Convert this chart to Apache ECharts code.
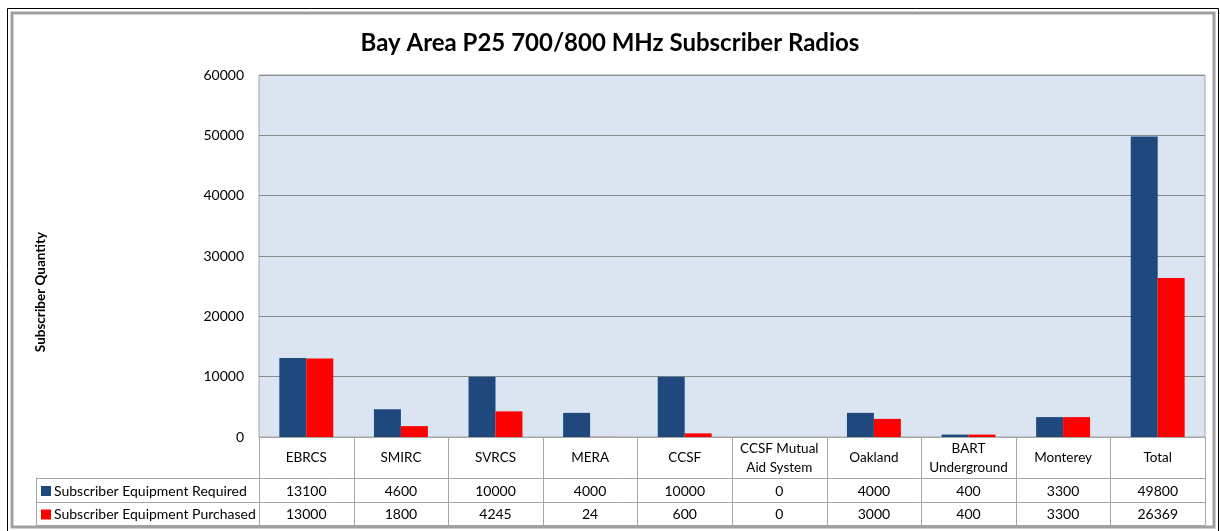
<!DOCTYPE html>
<html>
<head>
<meta charset="utf-8">
<script src="https://cdn.jsdelivr.net/npm/echarts@6/dist/echarts.min.js"></script>
<style>
html, body { margin: 0; padding: 0; background: #fff; }
#main { width: 1220px; height: 531px; }
</style>
</head>
<body>
<div id="main"></div>
<script>
var categories = ['EBRCS', 'SMIRC', 'SVRCS', 'MERA', 'CCSF', 'CCSF Mutual\nAid System', 'Oakland', 'BART\nUnderground', 'Monterey', 'Total'];
var required = [13100, 4600, 10000, 4000, 10000, 0, 4000, 400, 3300, 49800];
var purchased = [13000, 1800, 4245, 24, 600, 0, 3000, 400, 3300, 26369];
var seriesNames = ['Subscriber Equipment Required', 'Subscriber Equipment Purchased'];
var seriesColors = ['#1f497d', '#ff0000'];

var chart = echarts.init(document.getElementById('main'));
var font = 'Lato, "Open Sans", sans-serif';
var lineCol = '#a6a6a6';

// table geometry (rows under the axis)
var axisY = 437, row1 = 478, row2 = 502, rowEnd = 525, tableLeft = 36;

option = {
    animation: false,
    title: {
        text: 'Bay Area P25 700/800 MHz Subscriber Radios',
        left: 'center',
        top: 26,
        textStyle: { fontFamily: font, fontSize: 24, fontWeight: 'bold', color: '#000' }
    },
    grid: {
        left: 259, right: 15, top: 75, bottom: 94,
        show: true,
        backgroundColor: '#dbe5f1',
        borderColor: lineCol,
        borderWidth: 1
    },
    xAxis: {
        type: 'category',
        data: categories,
        axisLine: { lineStyle: { color: lineCol } },
        axisTick: { show: false },
        splitLine: { show: false },
        axisLabel: {
            interval: 0,
            margin: 21,
            verticalAlign: 'middle',
            lineHeight: 19,
            fontFamily: font,
            fontSize: 13.5,
            color: '#000'
        }
    },
    yAxis: {
        type: 'value',
        min: 0,
        max: 60000,
        interval: 10000,
        axisLine: { show: false },
        axisTick: { show: false },
        axisLabel: {
            margin: 15, fontFamily: font, fontSize: 14, color: '#000',
            formatter: function (v) { return String(v); }
        },
        splitLine: { lineStyle: { color: '#8c8c8c' } }
    },
    series: [
        {
            name: seriesNames[0], type: 'bar', data: required,
            barGap: '0%', barCategoryGap: '43%',
            itemStyle: { color: seriesColors[0] }
        },
        {
            name: seriesNames[1], type: 'bar', data: purchased,
            itemStyle: { color: seriesColors[1] }
        }
    ]
};
chart.setOption(option);

// build the data table from the axis positions
var gridLeft = chart.convertToPixel({ xAxisIndex: 0 }, 0);
var step = chart.convertToPixel({ xAxisIndex: 0 }, 1) - gridLeft;
var x0 = gridLeft - step / 2;
var x1 = x0 + step * categories.length;
var g = [];

function hline(y, xa, xb) {
    g.push({ type: 'line', shape: { x1: xa, y1: y + 0.5, x2: xb, y2: y + 0.5 }, style: { stroke: lineCol, lineWidth: 1 }, silent: true });
}
function vline(x, ya, yb) {
    g.push({ type: 'line', shape: { x1: Math.round(x) + 0.5, y1: ya, x2: Math.round(x) + 0.5, y2: yb }, style: { stroke: lineCol, lineWidth: 1 }, silent: true });
}

hline(row1, tableLeft, x1);
hline(row2, tableLeft, x1);
hline(rowEnd, tableLeft, x1);
vline(tableLeft, row1, rowEnd);
for (var i = 0; i <= categories.length; i++) {
    vline(x0 + step * i, axisY, rowEnd);
}

var rows = [required, purchased];
var rowMid = [(row1 + row2) / 2 + 1, (row2 + rowEnd) / 2 + 1];
rows.forEach(function (vals, r) {
    g.push({ type: 'rect', shape: { x: 41, y: rowMid[r] - 5, width: 10, height: 10 }, style: { fill: seriesColors[r] }, silent: true });
    g.push({ type: 'text', x: 54, y: rowMid[r], style: { text: seriesNames[r], font: '14px ' + font, fill: '#000', verticalAlign: 'middle', align: 'left' }, silent: true });
    vals.forEach(function (v, i) {
        g.push({ type: 'text', x: chart.convertToPixel({ xAxisIndex: 0 }, i), y: rowMid[r], style: { text: String(v), font: '14px ' + font, fill: '#000', align: 'center', verticalAlign: 'middle' }, silent: true });
    });
});

// y axis title
g.push({ type: 'text', x: 41, y: 292, rotation: Math.PI / 2, style: { text: 'Subscriber Quantity', font: 'bold 13.5px ' + font, fill: '#000', align: 'center', verticalAlign: 'middle' }, silent: true });

// chart frame
g.push({ type: 'rect', shape: { x: 7.5, y: 8.5, width: 1211, height: 540 }, style: { fill: 'none', stroke: '#000', lineWidth: 1 }, silent: true });
g.push({ type: 'rect', shape: { x: 12, y: 13, width: 1202, height: 514 }, style: { fill: 'none', stroke: '#a0a0a0', lineWidth: 3 }, silent: true });

chart.setOption({ graphic: g });
</script>
</body>
</html>
